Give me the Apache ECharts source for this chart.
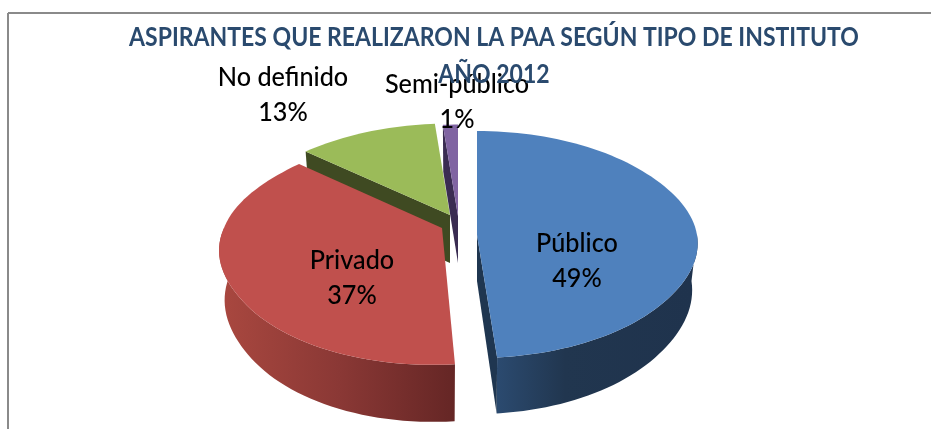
<!DOCTYPE html>
<html lang="es">
<head>
    <meta charset="UTF-8">
    <title>Aspirantes PAA 2012</title>
    <script src="https://cdn.jsdelivr.net/npm/echarts@6/dist/echarts.min.js"></script>
    <style>
        html, body { margin: 0; padding: 0; background: #fff; }
        #main { width: 931px; height: 429px; }
    </style>
</head>
<body>
<div id="main"></div>
<script type="text/javascript">
    var titleText = 'ASPIRANTES QUE REALIZARON LA PAA SEGÚN TIPO DE INSTITUTO\nAÑO 2012';
    var categories = ['Público', 'Privado', 'No definido', 'Semi-público'];
    var shares = [48.6, 37.4, 12.6, 1.4];

    // colours per slice
    var topColors = ['#4f81bd', '#c0504d', '#9bbb59', '#8064a2'];
    var cutColors = ['#1f3650', null, '#3f4a22', '#3a2c52'];

    // the picture is a 3D pie, ECharts has no such series so each slice is projected by hand.
    // x,y = tip of the slice, kFar/kNear = perspective, d0/d1 = wall height at the middle / front
    var shapes = [
        {x: 477, y: 235, rx: 220, ry: 118, kFar: 0.135, kNear: 0.04, skew: 0, d0: 46, d1: 56, cut: 'end'},
        {x: 442, y: 228, rx: 218, ry: 118, kFar: 0.275, kNear: 0.138, skew: 8, d0: 48, d1: 57, cut: null},
        {x: 450, y: 215, rx: 222, ry: 118, kFar: 0.29, kNear: 0.29, skew: 0, d0: 48, d1: 48, cut: 'start'},
        {x: 458, y: 216, rx: 222, ry: 118, kFar: 0.29, kNear: 0.29, skew: 0, d0: 47, d1: 47, cut: 'start'}
    ];
    var labelPos = [[577, 261], [352, 278], [283, 95], [457, 102]];
    var drawOrder = [2, 3, 1, 0];

    var wallGradients = [
        new echarts.graphic.LinearGradient(498, 0, 690, 0, [
            {offset: 0, color: '#2b4a6f'},
            {offset: 0.35, color: '#21364f'},
            {offset: 1, color: '#1f334d'}
        ], true),
        new echarts.graphic.LinearGradient(225, 0, 455, 0, [
            {offset: 0, color: '#a8473f'},
            {offset: 0.5, color: '#8a3835'},
            {offset: 1, color: '#652625'}
        ], true)
    ];

    function project(g, deg) {
        var a = deg * Math.PI / 180;
        var sx = Math.sin(a), cy = Math.cos(a);
        // blend far and near perspective so there is no corner at the side of the pie
        var t = Math.min(1, Math.max(0, (cy + 0.6) / 1.2));
        var k = g.kNear + (g.kFar - g.kNear) * t * t * (3 - 2 * t);
        var s = 1 / (1 + k * cy);
        var shear = cy < 0 ? g.skew * cy : 0;
        return [g.x + (g.rx * sx + shear) * s, g.y - g.ry * cy * s, cy];
    }

    function dropped(g, p) {
        var d = g.d0 + (g.d1 - g.d0) * Math.max(0, -p[2]);
        return [g.x + (p[0] - g.x) * 0.975, p[1] + d];
    }

    function arc(g, from, to) {
        var pts = [];
        for (var deg = from; deg < to; deg += 2) {
            pts.push(project(g, deg));
        }
        pts.push(project(g, to));
        return pts;
    }

    function renderSlice(params, api) {
        var i = api.value(0);
        var g = shapes[i];
        var start = 0;
        for (var j = 0; j < i; j++) {
            start += shares[j] * 3.6;
        }
        var end = start + api.value(1) * 3.6;
        var children = [];

        // front wall, only the part facing the viewer
        var wallFrom = Math.max(start, 90), wallTo = Math.min(end, 270);
        if (wallFrom < wallTo && wallGradients[i]) {
            var upper = arc(g, wallFrom, wallTo);
            var lower = upper.map(function (p) { return dropped(g, p); }).reverse();
            children.push({
                type: 'polygon',
                shape: {points: upper.map(function (p) { return [p[0], p[1]]; }).concat(lower)},
                style: {fill: wallGradients[i]}
            });
        }

        // cut face
        if (g.cut) {
            var edge = project(g, g.cut === 'end' ? end : start);
            var edgeLow = dropped(g, edge);
            children.push({
                type: 'polygon',
                shape: {points: [[g.x, g.y], [edge[0], edge[1]], edgeLow, [g.x, g.y + g.d0]]},
                style: {fill: cutColors[i]}
            });
        }

        // top face
        var top = arc(g, start, end).map(function (p) { return [p[0], p[1]]; });
        top.unshift([g.x, g.y]);
        children.push({type: 'polygon', shape: {points: top}, style: {fill: topColors[i]}});

        // label
        children.push({
            type: 'text',
            x: labelPos[i][0],
            y: labelPos[i][1],
            scaleX: 0.97,
            z2: 10,
            style: {
                text: categories[i] + '\n' + Math.round(api.value(1)) + '%',
                align: 'center',
                verticalAlign: 'middle',
                fontFamily: 'Lato',
                fontSize: 26,
                fontWeight: 500,
                lineHeight: 35,
                fill: '#000'
            }
        });
        return {type: 'group', children: children};
    }

    var myChart = echarts.init(document.getElementById('main'));
    myChart.setOption({
        animation: false,
        backgroundColor: '#fff',
        graphic: [
            {type: 'line', shape: {x1: 8, y1: 13, x2: 931, y2: 13}, style: {stroke: '#8a8a8a', lineWidth: 2}},
            {type: 'line', shape: {x1: 8, y1: 13, x2: 8, y2: 429}, style: {stroke: '#8a8a8a', lineWidth: 2}},
            {
                type: 'text',
                x: 494,
                y: 56,
                scaleX: 0.885,
                z: 5,
                style: {
                    text: titleText,
                    align: 'center',
                    verticalAlign: 'middle',
                    fontFamily: 'Lato',
                    fontSize: 26,
                    fontWeight: 700,
                    lineHeight: 37,
                    fill: '#2a4a6e'
                }
            }
        ],
        series: [{
            type: 'custom',
            coordinateSystem: 'none',
            silent: true,
            renderItem: renderSlice,
            data: drawOrder.map(function (i) { return [i, shares[i]]; })
        }]
    });
</script>
</body>
</html>
